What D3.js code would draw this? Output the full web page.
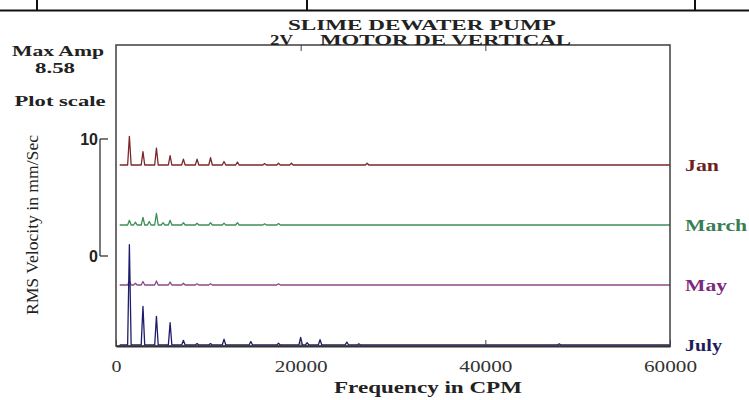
<!DOCTYPE html>
<html>
<head>
<meta charset="utf-8">
<script src="https://cdn.jsdelivr.net/npm/d3@7"></script>
<style>
  html, body { margin: 0; padding: 0; background: #fff; }
  svg { display: block; }
</style>
</head>
<body>
<svg id="chart" width="749" height="400"></svg>
<script>
// months, top to bottom
const months = ['Jan', 'March', 'May', 'July'];

// peaks of each spectrum: frequency (CPM) and RMS velocity (mm/Sec)
const janFreq = [1450, 2920, 4380, 5860, 7300, 8780, 10240, 11700, 13150, 16100, 17600, 19000, 27200];
const janAmp  = [2.45, 1.15, 1.45, 0.8, 0.5, 0.5, 0.62, 0.3, 0.25, 0.12, 0.15, 0.15, 0.15];

const marchFreq = [1450, 2100, 2920, 3600, 4380, 5100, 5860, 7300, 8780, 10240, 11700, 13150, 16100, 17600];
const marchAmp  = [0.4, 0.25, 0.65, 0.3, 1.0, 0.2, 0.4, 0.2, 0.15, 0.2, 0.15, 0.2, 0.1, 0.12];

const mayFreq = [1450, 2100, 2920, 4380, 5860, 7300, 8780, 10240, 17600];
const mayAmp  = [0.35, 0.15, 0.3, 0.35, 0.25, 0.15, 0.1, 0.1, 0.1];

const julyFreq = [1450, 2920, 4380, 5860, 7300, 8780, 10240, 11700, 14600, 17600, 20000, 20700, 22100, 25000, 26300, 48000];
const julyAmp  = [8.58, 3.3, 2.45, 1.9, 0.4, 0.12, 0.12, 0.5, 0.3, 0.15, 0.65, 0.2, 0.45, 0.25, 0.1, 0.1];

const xTicks = [0, 20000, 40000, 60000];
const scaleTicks = [0, 10];
const maxAmp = '8.58';

const spectra = {
  Jan: {freq: janFreq, amp: janAmp},
  March: {freq: marchFreq, amp: marchAmp},
  May: {freq: mayFreq, amp: mayAmp},
  July: {freq: julyFreq, amp: julyAmp},
};

const lineColors = {Jan: '#7a2828', March: '#3f8f58', May: '#8a4a8a', July: '#1c1c6b'};
const labelColors = {Jan: '#6e1f1f', March: '#3a7d55', May: '#7d2a7d', July: '#1d1d5e'};

const serif = '"Liberation Serif", "Times New Roman", serif';
const sans = '"Liberation Sans", Arial, sans-serif';

const margin = {top: 45, right: 79, bottom: 54, left: 116};
const width = 749, height = 400;

const svg = d3.select('#chart');

// table borders cut off at top of image
svg.append('line').attr('x1', 0).attr('x2', width).attr('y1', 10.5).attr('y2', 10.5)
  .attr('stroke', '#111').attr('stroke-width', 2);
[37, 307, 695].forEach(xx => {
  svg.append('line').attr('x1', xx).attr('x2', xx).attr('y1', 0).attr('y2', 10.5)
    .attr('stroke', '#111').attr('stroke-width', 2);
});

const x = d3.scaleLinear()
  .domain([0, 60000])
  .range([margin.left, width - margin.right]);

// baseline of each month
const base = d3.scalePoint()
  .domain(months)
  .range([165, height - margin.bottom - 1]);

// amplitude in pixels
const amp = d3.scaleLinear().domain([0, 10]).range([0, 117]);

// spike shape round each peak
const halfWidth = 190;
const tracePoints = (m) => {
  const s = spectra[m];
  const pts = [[400, 0]];
  s.freq.forEach((f, i) => {
    pts.push([f - halfWidth, 0], [f, s.amp[i]], [f + halfWidth, 0]);
  });
  pts.push([60000, 0]);
  return pts;
};

const line = (m) => d3.line()
  .x(d => x(d[0]))
  .y(d => base(m) - amp(d[1]));

months.forEach(m => {
  svg.append('path')
    .datum(tracePoints(m))
    .attr('fill', 'none')
    .attr('stroke', lineColors[m])
    .attr('stroke-width', 1.3)
    .attr('stroke-linejoin', 'round')
    .attr('d', line(m));

  svg.append('text')
    .attr('x', 685)
    .attr('y', base(m) + 6)
    .attr('font-family', serif)
    .attr('font-weight', 'bold')
    .attr('font-size', 16)
    .attr('fill', labelColors[m])
    .attr('textLength', {Jan: 34, March: 62, May: 42, July: 37}[m])
    .attr('lengthAdjust', 'spacingAndGlyphs')
    .text(m);
});

// frame
const plotBottom = height - margin.bottom;
svg.append('rect')
  .attr('x', margin.left)
  .attr('y', margin.top)
  .attr('width', width - margin.right - margin.left)
  .attr('height', plotBottom - margin.top)
  .attr('fill', 'none')
  .attr('stroke', '#4a4a4a')
  .attr('stroke-width', 1.6);

// bottom axis
const xAxis = svg.append('g')
  .attr('transform', `translate(0,${plotBottom})`)
  .call(d3.axisBottom(x).tickValues(xTicks).tickSizeInner(-6).tickSizeOuter(0).tickFormat(d3.format('d')));
xAxis.select('.domain').attr('stroke', '#333').attr('stroke-width', 2);
xAxis.selectAll('.tick line').attr('stroke', '#444');
xAxis.selectAll('.tick text')
  .attr('y', 26)
  .attr('dy', 0)
  .attr('font-family', serif)
  .attr('font-size', 16)
  .attr('fill', '#333')
  .attr('textLength', d => d === 0 ? 10 : 53)
  .attr('lengthAdjust', 'spacingAndGlyphs');

// top axis, ticks only
const topAxis = svg.append('g')
  .attr('transform', `translate(0,${margin.top})`)
  .call(d3.axisTop(x).tickValues(xTicks.slice(1, 3)).tickSizeInner(-6).tickSizeOuter(0).tickFormat(''));
topAxis.select('.domain').remove();
topAxis.selectAll('.tick line').attr('stroke', '#444');

svg.append('text')
  .attr('x', 428)
  .attr('y', 393)
  .attr('text-anchor', 'middle')
  .attr('font-family', serif)
  .attr('font-weight', 'bold')
  .attr('font-size', 17)
  .attr('fill', '#222')
  .attr('textLength', 188)
  .attr('lengthAdjust', 'spacingAndGlyphs')
  .text('Frequency in CPM');

// title
const title = (txt, xx, yy, len) => svg.append('text')
  .attr('x', xx)
  .attr('y', yy)
  .attr('font-family', serif)
  .attr('font-weight', 'bold')
  .attr('font-size', 14)
  .attr('fill', '#222')
  .attr('textLength', len)
  .attr('lengthAdjust', 'spacingAndGlyphs')
  .text(txt);
title('SLIME DEWATER PUMP', 288, 30, 268);
title('2V', 270, 45, 23);
title('MOTOR DE VERTICAL', 320, 45, 251);

// left panel texts
const leftText = (txt, cx, yy, len) => svg.append('text')
  .attr('x', cx)
  .attr('y', yy)
  .attr('text-anchor', 'middle')
  .attr('font-family', serif)
  .attr('font-weight', 'bold')
  .attr('font-size', 15)
  .attr('fill', '#222')
  .attr('textLength', len)
  .attr('lengthAdjust', 'spacingAndGlyphs')
  .text(txt);
leftText('Max Amp', 58, 56, 92);
leftText(maxAmp, 55, 73, 40);
leftText('Plot scale', 60, 106, 91);

// plot scale bar
const scaleX = 100;
const scale0 = 256;
svg.append('line')
  .attr('x1', scaleX).attr('x2', scaleX)
  .attr('y1', scale0).attr('y2', scale0 - amp(10))
  .attr('stroke', '#333').attr('stroke-width', 1.3);
scaleTicks.forEach(t => {
  const yy = scale0 - amp(t);
  svg.append('line')
    .attr('x1', scaleX).attr('x2', scaleX + 8)
    .attr('y1', yy).attr('y2', yy)
    .attr('stroke', '#333').attr('stroke-width', 1.3);
  svg.append('text')
    .attr('x', 98)
    .attr('y', yy + 6)
    .attr('text-anchor', 'end')
    .attr('font-family', sans)
    .attr('font-weight', 'bold')
    .attr('font-size', 16)
    .attr('fill', '#222')
    .text(t);
});

// y label
svg.append('text')
  .attr('transform', 'translate(38,225) rotate(-90)')
  .attr('text-anchor', 'middle')
  .attr('font-family', serif)
  .attr('font-size', 16)
  .attr('fill', '#222')
  .attr('textLength', 180)
  .attr('lengthAdjust', 'spacingAndGlyphs')
  .text('RMS Velocity in mm/Sec');
</script>
</body>
</html>
